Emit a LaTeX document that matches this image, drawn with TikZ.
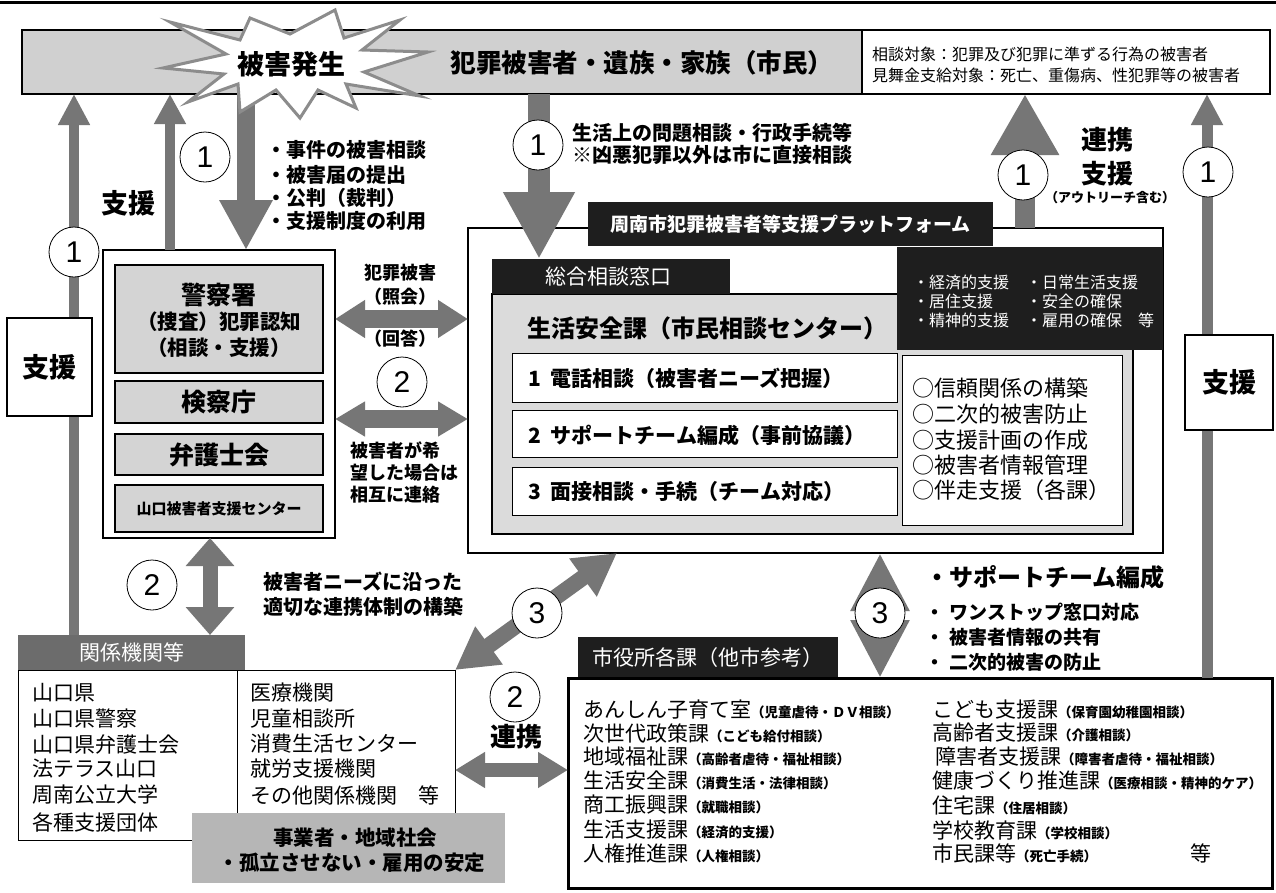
\documentclass[tikz,border=0pt]{standalone}
\usepackage{fontspec}
\setmainfont{Noto Sans CJK JP}
\newfontfamily\digitfont{Liberation Sans}
\usetikzlibrary{arrows.meta}
\definecolor{agray}{RGB}{118,118,118}
\definecolor{barfill}{RGB}{208,208,208}
\definecolor{boxfill}{RGB}{212,212,212}
\definecolor{blk}{RGB}{30,30,30}
\definecolor{kgray}{RGB}{108,108,108}
\definecolor{jgray}{RGB}{182,182,182}
\newcommand\fs[1]{\fontsize{#1}{#1}\selectfont}
\newcommand\rbox[6]{\node[#6, minimum width={(#4-#2)*1pt}, minimum height={(#5-#3)*1pt}, inner sep=0pt, outer sep=0pt] (#1) at ({(#2+#4)/2},{(#3+#5)/2})}
\newcommand\crow[5]{\node[anchor=west] (#1) at (#2,#3) {\fs{21}#4\fs{13.5}\bfseries #5};}
\tikzset{
  digit/.style={circle, draw, fill=white, minimum size=50pt, line width=0.8pt, font=\digitfont\fs{30}},
  gbox/.style={draw, line width=1.2pt, fill=boxfill},
  wbox/.style={draw, line width=1.2pt, fill=white},
  lt/.style={anchor=west},
}
\begin{document}
\begin{tikzpicture}[x=1pt,y=-1pt, every node/.style={inner sep=0pt, outer sep=0pt}]
\useasboundingbox (0,0) rectangle (1276,892);
\fill[white] (0,0) rectangle (1276,892);

% top rule
\coordinate (tl0) at (0,2.5);
\coordinate (tl1) at (1276,2.5);
\draw[line width=3pt] (tl0) -- (tl1);

% top bar
\rbox{topbar}{22}{30}{1270}{94}{draw, line width=1.5pt, fill=barfill}{};
\rbox{topinfo}{862}{30}{1270}{94}{draw, line width=1.5pt, fill=white}{};
\node[font=\fs{25.5}\bfseries] (victim) at (642,63) {犯罪被害者・遺族・家族（市民）};
\node[lt, font=\fs{16}] (info1) at (872,54) {相談対象：犯罪及び犯罪に準ずる行為の被害者};
\node[lt, font=\fs{16}] (info2) at (872,75) {見舞金支給対象：死亡、重傷病、性犯罪等の被害者};

% police group
\rbox{police}{103}{250}{335}{538}{wbox}{};
\rbox{pol1}{115}{265}{323}{373}{gbox}{};
\node[font=\fs{25}\bfseries] (pol1a) at (219,295) {警察署};
\node[font=\fs{20.5}\bfseries] (pol1b) at (219,322) {（捜査）犯罪認知};
\node[font=\fs{20.5}\bfseries] (pol1c) at (219,348) {（相談・支援）};
\rbox{pol2}{115}{381}{323}{423}{gbox, font=\fs{25}\bfseries}{検察庁};
\rbox{pol3}{115}{434}{323}{475}{gbox, font=\fs{25}\bfseries}{弁護士会};
\rbox{pol4}{115}{485}{323}{532}{gbox, font=\fs{15}\bfseries}{山口被害者支援センター};

% platform
\rbox{platform}{468}{228}{1163}{553}{wbox}{};
\rbox{anshin}{492}{294}{1133}{534}{draw, line width=1.5pt, fill=black!14}{};
\rbox{plist}{897}{247}{1163}{350}{fill=blk}{};
\rbox{header}{588}{202}{993}{246}{fill=blk, text=white, font=\fs{19}\bfseries}{周南市犯罪被害者等支援プラットフォーム};
\rbox{tab}{492}{259}{730}{294}{fill=blk}{};
\node[lt, text=white, font=\fs{21}] (tabt) at (545,277) {総合相談窓口};
\node[lt, font=\fs{24}\bfseries] (anshint) at (527,328) {生活安全課（市民相談センター）};
\rbox{w1}{512}{353}{897}{402}{draw, line width=1pt, fill=white}{};
\rbox{w2}{512}{410}{897}{457}{draw, line width=1pt, fill=white}{};
\rbox{w3}{512}{467}{897}{515}{draw, line width=1pt, fill=white}{};
\node[lt, font=\fs{21}\bfseries] (w1t) at (528,378) {1\hspace{10pt}電話相談（被害者ニーズ把握）};
\node[lt, font=\fs{21}\bfseries] (w2t) at (528,435) {2\hspace{10pt}サポートチーム編成（事前協議）};
\node[lt, font=\fs{21}\bfseries] (w3t) at (528,492) {3\hspace{10pt}面接相談・手続（チーム対応）};
\rbox{obox}{902}{355}{1122}{525}{draw, line width=1pt, fill=white}{};
\node[lt, font=\fs{22}] (o1) at (912,388) {○信頼関係の構築};
\node[lt, font=\fs{22}] (o2) at (912,414) {○二次的被害防止};
\node[lt, font=\fs{22}] (o3) at (912,440) {○支援計画の作成};
\node[lt, font=\fs{22}] (o4) at (912,465) {○被害者情報管理};
\node[lt, font=\fs{22}] (o5) at (912,490) {○伴走支援（各課）};
\node[lt, text=white, font=\fs{16}] (l1) at (913,282) {・経済的支援};
\node[lt, text=white, font=\fs{16}] (l2) at (913,301) {・居住支援};
\node[lt, text=white, font=\fs{16}] (l3) at (913,320) {・精神的支援};
\node[lt, text=white, font=\fs{16}] (l4) at (1026,282) {・日常生活支援};
\node[lt, text=white, font=\fs{16}] (l5) at (1026,301) {・安全の確保};
\node[lt, text=white, font=\fs{16}] (l6) at (1026,320) {・雇用の確保　等};

% bottom left
\rbox{kikan}{18}{635}{245}{670}{fill=kgray, text=white, font=\fs{21}}{関係機関等};
\rbox{tabL}{18}{670}{237}{840}{draw, line width=1pt, fill=white}{};
\rbox{tabR}{237}{670}{455}{840}{draw, line width=1pt, fill=white}{};
\node[lt, font=\fs{21}] (k1) at (32,693) {山口県};
\node[lt, font=\fs{21}] (k2) at (32,719) {山口県警察};
\node[lt, font=\fs{21}] (k3) at (32,744) {山口県弁護士会};
\node[lt, font=\fs{21}] (k4) at (32,769) {法テラス山口};
\node[lt, font=\fs{21}] (k5) at (32,795) {周南公立大学};
\node[lt, font=\fs{21}] (k6) at (32,822) {各種支援団体};
\node[lt, font=\fs{21}] (m1) at (250,693) {医療機関};
\node[lt, font=\fs{21}] (m2) at (250,719) {児童相談所};
\node[lt, font=\fs{21}] (m3) at (250,744) {消費生活センター};
\node[lt, font=\fs{21}] (m4) at (250,769) {就労支援機関};
\node[lt, font=\fs{21}] (m5) at (250,795) {その他関係機関　等};
\rbox{jigyo}{192}{813}{505}{883}{fill=jgray}{};
\node[font=\fs{20.5}\bfseries] (j1) at (355,838) {事業者・地域社会};
\node[font=\fs{20.5}\bfseries] (j2) at (352,863) {・孤立させない・雇用の安定};
\node[lt, font=\fs{20}\bfseries] (need1) at (263,582) {被害者ニーズに沿った};
\node[lt, font=\fs{20}\bfseries] (need2) at (263,607) {適切な連携体制の構築};

% city offices
\rbox{ctab}{578}{637}{838}{678}{fill=blk}{};
\node[lt, text=white, font=\fs{21}] (ctabt) at (592,658) {市役所各課（他市参考）};
\rbox{city}{568}{678}{1272}{888}{draw, line width=3pt, fill=white}{};
\crow{r1}{583}{710}{あんしん子育て室}{（児童虐待・ＤＶ相談）}
\crow{r2}{583}{733}{次世代政策課}{（こども給付相談）}
\crow{r3}{583}{757}{地域福祉課}{（高齢者虐待・福祉相談）}
\crow{r4}{583}{781}{生活安全課}{（消費生活・法律相談）}
\crow{r5}{583}{805}{商工振興課}{（就職相談）}
\crow{r6}{583}{830}{生活支援課}{（経済的支援）}
\crow{r7}{583}{853}{人権推進課}{（人権相談）}
\crow{s1}{932}{710}{こども支援課}{（保育園幼稚園相談）}
\crow{s2}{932}{733}{高齢者支援課}{（介護相談）}
\crow{s3}{935}{757}{障害者支援課}{（障害者虐待・福祉相談）}
\crow{s4}{932}{781}{健康づくり推進課}{（医療相談・精神的ケア）}
\crow{s5}{932}{805}{住宅課}{（住居相談）}
\crow{s6}{932}{830}{学校教育課}{（学校相談）}
\crow{s7}{932}{853}{市民課等}{（死亡手続）}
\node[lt, font=\fs{21}] (s8) at (1190,853) {等};

% right bullets
\node[lt, font=\fs{24}\bfseries] (b1) at (925,577) {・サポートチーム編成};
\node[lt, font=\fs{19}\bfseries] (b2) at (925,612) {・\hspace{6pt}ワンストップ窓口対応};
\node[lt, font=\fs{19}\bfseries] (b3) at (925,637) {・\hspace{6pt}被害者情報の共有};
\node[lt, font=\fs{19}\bfseries] (b4) at (925,662) {・\hspace{6pt}二次的被害の防止};

% x / y reference coordinates
\coordinate (xA1) at (74,0);
\coordinate (xA2) at (170,0);
\coordinate (xA3) at (246,0);
\coordinate (xA4) at (539,0);
\coordinate (xA5) at (1025,0);
\coordinate (xA6) at (1207,0);
\coordinate (yD1) at (0,319);
\coordinate (yD2) at (0,419);
\coordinate (xD3) at (210,0);
\coordinate (xD4) at (617,0);
\coordinate (yD5) at (0,770);
\coordinate (xD6) at (880,0);

% block arrows
\draw[agray, line width=10pt, -{Triangle[length=31pt,width=30pt]}] (kikan.north -| xA1) -- (topbar.south -| xA1);
\draw[agray, line width=10pt, -{Triangle[length=30pt,width=30pt]}] (police.north -| xA2) -- (topbar.south -| xA2);
\draw[agray, line width=18pt, -{Triangle[length=50pt,width=50pt]}] (topbar.south -| xA3) -- (police.north -| xA3);
\draw[agray, line width=22pt, -{Triangle[length=67pt,width=67pt]}] (topbar.south -| xA4) -- (tab.north -| xA4);
\draw[agray, line width=20pt, -{Triangle[length=61pt,width=64pt]}] (platform.north -| xA5) -- (topbar.south -| xA5);
\draw[agray, line width=11pt, -{Triangle[length=31pt,width=30pt]}] (city.north -| xA6) -- (topbar.south -| xA6);
\draw[agray, line width=18pt, {Triangle[length=30pt,width=36pt]}-{Triangle[length=30pt,width=36pt]}] (police.east |- yD1) -- (platform.west |- yD1);
\draw[agray, line width=18pt, {Triangle[length=30pt,width=33pt]}-{Triangle[length=30pt,width=33pt]}] (police.east |- yD2) -- (platform.west |- yD2);
\draw[agray, line width=15pt, {Triangle[length=28pt,width=47pt]}-{Triangle[length=28pt,width=47pt]}] (police.south -| xD3) -- (kikan.north -| xD3);
\draw[agray, line width=16pt, {Triangle[length=42pt,width=44pt]}-{Triangle[length=42pt,width=44pt]}] (tabR.north east) -- (platform.south -| xD4);
\draw[agray, line width=14pt, {Triangle[length=30pt,width=34pt]}-{Triangle[length=30pt,width=34pt]}] (tabR.east |- yD5) -- (city.west |- yD5);
\draw[agray, line width=20pt, {Triangle[length=58pt,width=55pt]}-{Triangle[length=58pt,width=55pt]}] (platform.south -| xD6) -- (city.north -| xD6);

% support boxes
\rbox{shienL}{7}{318}{92}{416}{draw, line width=1.2pt, fill=white, font=\fs{27}\bfseries}{支援};
\rbox{shienR}{1185}{335}{1273}{430}{draw, line width=1.2pt, fill=white, font=\fs{27}\bfseries}{支援};
\node[font=\fs{27}\bfseries] (shienT) at (128,203) {支援};
\node[font=\fs{26}\bfseries] (renkei) at (1107,140) {連携};
\node[font=\fs{26}\bfseries] (shienT2) at (1107,174) {支援};
\node[font=\fs{13}\bfseries] (outreach) at (1110,198) {（アウトリーチ含む）};
\node[font=\fs{26}\bfseries] (renkei2) at (516,737) {連携};

% starburst
\draw[fill=white, draw=black!45, line width=3pt, line join=miter]
 (163,68) -- (226,54) -- (170,22) -- (240,40) -- (250,18) -- (290,34)
 -- (335,10) -- (344,38) -- (400,20) -- (362,50) -- (428,52) -- (364,72)
 -- (420,96) -- (346,84) -- (356,108) -- (318,90) -- (300,118) -- (276,90)
 -- (240,112) -- (238,84) -- (188,102) -- (224,74) -- cycle;
\node[font=\fs{27}\bfseries] (higai) at (291,64) {被害発生};

% bullets left
\node[lt, font=\fs{20}\bfseries] (e1) at (266,150) {・事件の被害相談};
\node[lt, font=\fs{20}\bfseries] (e2) at (266,175) {・被害届の提出};
\node[lt, font=\fs{20}\bfseries] (e3) at (266,198) {・公判（裁判）};
\node[lt, font=\fs{20}\bfseries] (e4) at (266,221) {・支援制度の利用};
\node[lt, font=\fs{20}\bfseries] (lf1) at (572,133) {生活上の問題相談・行政手続等};
\node[lt, font=\fs{20}\bfseries] (lf2) at (572,155) {※凶悪犯罪以外は市に直接相談};

% middle texts
\node[font=\fs{18}\bfseries] (inq1) at (400,273) {犯罪被害};
\node[font=\fs{18}\bfseries] (inq2) at (400,297) {（照会）};
\node[font=\fs{18}\bfseries] (inq3) at (400,339) {（回答）};
\node[lt, font=\fs{18}\bfseries] (hope1) at (350,450) {被害者が希};
\node[lt, font=\fs{18}\bfseries] (hope2) at (350,473) {望した場合は};
\node[lt, font=\fs{18}\bfseries] (hope3) at (350,495) {相互に連絡};

% numbered circles
\node[digit] (c1a) at (74,252) {1};
\node[digit] (c1b) at (205,157) {1};
\node[digit] (c1c) at (538,145) {1};
\node[digit] (c1d) at (1023,175) {1};
\node[digit] (c1e) at (1208,172) {1};
\node[digit] (c2a) at (402,382) {2};
\node[digit] (c2b) at (152,585) {2};
\node[digit] (c2c) at (515,697) {2};
\node[digit] (c3a) at (537,613) {3};
\node[digit] (c3b) at (880,613) {3};
\end{tikzpicture}
\end{document}
